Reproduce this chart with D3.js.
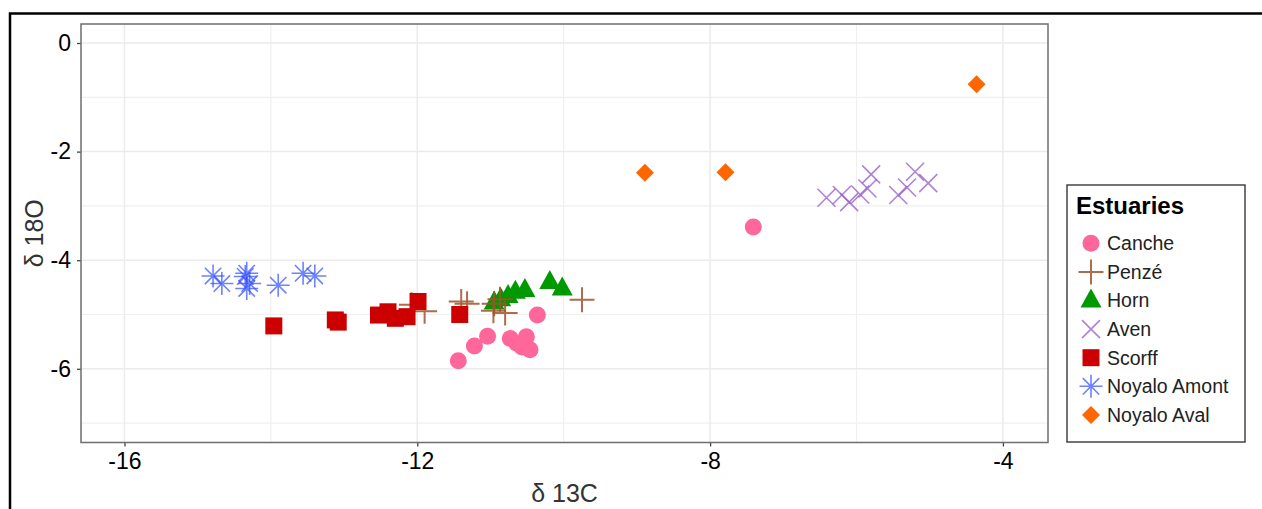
<!DOCTYPE html>
<html>
<head>
<meta charset="utf-8">
<script src="https://cdn.jsdelivr.net/npm/d3@7"></script>
<style>
  html, body { margin: 0; padding: 0; background: #fff; }
  svg { display: block; font-family: "Liberation Sans", Arial, sans-serif; }
</style>
</head>
<body>
<svg id="chart" width="1262" height="509"></svg>
<script>
// ---- data (δ13C, δ18O) ----
const estuaries = ["Canche", "Penzé", "Horn", "Aven", "Scorff", "Noyalo Amont", "Noyalo Aval"];
const canche = [[-11.44,-5.85],[-11.22,-5.58],[-11.04,-5.40],[-10.73,-5.44],[-10.64,-5.53],[-10.51,-5.41],[-10.57,-5.60],[-10.46,-5.65],[-10.36,-5.01],[-7.41,-3.39]];
const penze = [[-12.08,-4.82],[-11.90,-4.94],[-11.40,-4.76],[-11.32,-4.80],[-10.95,-4.80],[-10.87,-4.72],[-10.96,-4.93],[-10.80,-4.97],[-9.75,-4.73]];
const horn = [[-10.95,-4.78],[-10.86,-4.72],[-10.66,-4.58],[-10.76,-4.66],[-10.53,-4.55],[-10.19,-4.40],[-10.02,-4.52]];
const aven = [[-6.41,-2.85],[-6.20,-2.80],[-6.10,-2.93],[-5.95,-2.79],[-5.85,-2.68],[-5.80,-2.42],[-5.43,-2.80],[-5.31,-2.66],[-5.20,-2.37],[-5.02,-2.58]];
const scorff = [[-13.96,-5.21],[-13.12,-5.10],[-13.08,-5.14],[-12.53,-5.01],[-12.40,-4.95],[-12.30,-5.07],[-12.14,-5.04],[-11.99,-4.76],[-11.42,-5.00]];
const noyaloAmont = [[-14.79,-4.29],[-14.67,-4.43],[-14.35,-4.30],[-14.33,-4.24],[-14.29,-4.43],[-14.33,-4.52],[-13.90,-4.46],[-13.56,-4.24],[-13.40,-4.29]];
const noyaloAval = [[-8.89,-2.39],[-7.79,-2.38],[-4.36,-0.76]];
const xTicks = [-16, -12, -8, -4];
const xMinor = [-14, -10, -6];
const yTicks = [0, -2, -4, -6];
const yMinor = [-1, -3, -5, -7];
const xTitle = "δ 13C";
const yTitle = "δ 18O";
const legendTitle = "Estuaries";

const seriesData = [canche, penze, horn, aven, scorff, noyaloAmont, noyaloAval];
const colors = ["#ff6699", "#a0522d", "#009900", "#9459c6", "#cc0000", "#2f4dff", "#ff6600"];
const shapes = ["circle", "plus", "triangle", "cross", "square", "asterisk", "diamond"];
const drawOrder = [2, 1, 4, 0, 3, 5, 6];

// ---- layout ----
const svg = d3.select("#chart");
const P = { left: 81, right: 1048, top: 24, bottom: 442.5 };
const x = d3.scaleLinear().domain([-16.594, -3.384]).range([P.left, P.right]);
const y = d3.scaleLinear().domain([-7.357, 0.35]).range([P.bottom, P.top]);

// outer frame
svg.append("path").attr("d", "M10,509 L10,13.5 L1262,13.5")
  .attr("fill", "none").attr("stroke", "#000").attr("stroke-width", 2.5);

// gridlines
const grid = svg.append("g");
grid.selectAll(".vmin").data(xMinor).enter().append("line")
  .attr("x1", d => x(d)).attr("x2", d => x(d)).attr("y1", P.top).attr("y2", P.bottom)
  .attr("stroke", "#f0f0f0").attr("stroke-width", 1.2);
grid.selectAll(".hmin").data(yMinor).enter().append("line")
  .attr("y1", d => y(d)).attr("y2", d => y(d)).attr("x1", P.left).attr("x2", P.right)
  .attr("stroke", "#f0f0f0").attr("stroke-width", 1.2);
grid.selectAll(".vmaj").data(xTicks).enter().append("line")
  .attr("x1", d => x(d)).attr("x2", d => x(d)).attr("y1", P.top).attr("y2", P.bottom)
  .attr("stroke", "#ebebeb").attr("stroke-width", 1.5);
grid.selectAll(".hmaj").data(yTicks).enter().append("line")
  .attr("y1", d => y(d)).attr("y2", d => y(d)).attr("x1", P.left).attr("x2", P.right)
  .attr("stroke", "#ebebeb").attr("stroke-width", 1.5);

// axes
const fmt = d => String(d);
const xAxis = svg.append("g").attr("transform", `translate(0,${P.bottom})`)
  .call(d3.axisBottom(x).tickValues(xTicks).tickFormat(fmt).tickSize(4).tickPadding(6));
const yAxis = svg.append("g").attr("transform", `translate(${P.left},0)`)
  .call(d3.axisLeft(y).tickValues(yTicks).tickFormat(fmt).tickSize(4).tickPadding(6));
[xAxis, yAxis].forEach(a => {
  a.select(".domain").remove();
  a.selectAll(".tick line").attr("stroke", "#444").attr("stroke-width", 1.3);
  a.selectAll(".tick text").attr("fill", "#000").style("font-size", "23px")
    .style("font-family", "'Liberation Sans', Arial, sans-serif");
});
xAxis.selectAll(".tick text").attr("dy", "0.71em").attr("y", 10);
yAxis.selectAll(".tick text").attr("x", -10);

// panel border
svg.append("rect").attr("x", P.left).attr("y", P.top)
  .attr("width", P.right - P.left).attr("height", P.bottom - P.top)
  .attr("fill", "none").attr("stroke", "#6e6e6e").attr("stroke-width", 1.5);

// axis titles
svg.append("text").attr("x", (P.left + P.right) / 2).attr("y", 502)
  .attr("text-anchor", "middle").attr("fill", "#333").style("font-size", "25px").text(xTitle);
svg.append("text").attr("transform", `translate(43,${(P.top + P.bottom) / 2}) rotate(-90)`)
  .attr("text-anchor", "middle").attr("fill", "#333").style("font-size", "25px").text(yTitle);

// symbols
function drawSymbol(g, shape, color) {
  if (shape === "circle") {
    g.append("circle").attr("r", 8.5).attr("fill", color);
  } else if (shape === "square") {
    g.append("rect").attr("x", -8.5).attr("y", -8.5).attr("width", 17).attr("height", 17).attr("fill", color);
  } else if (shape === "triangle") {
    g.append("path").attr("d", "M0,-12 L10.5,7 L-10.5,7 Z").attr("fill", color);
  } else if (shape === "diamond") {
    g.append("path").attr("d", "M0,-9 L9,0 L0,9 L-9,0 Z").attr("fill", color);
  } else if (shape === "plus") {
    g.append("path").attr("d", "M-12.5,0 L12.5,0 M0,-12.5 L0,12.5")
      .attr("stroke", color).attr("stroke-width", 2).attr("stroke-opacity", 0.85).attr("fill", "none");
  } else if (shape === "cross") {
    g.append("path").attr("d", "M-9,-9 L9,9 M-9,9 L9,-9")
      .attr("stroke", color).attr("stroke-width", 1.6).attr("stroke-opacity", 0.75).attr("fill", "none");
  } else if (shape === "asterisk") {
    g.append("path").attr("d", "M-11.5,0 L11.5,0 M0,-11.5 L0,11.5 M-8.2,-8.2 L8.2,8.2 M-8.2,8.2 L8.2,-8.2")
      .attr("stroke", color).attr("stroke-width", 1.6).attr("stroke-opacity", 0.7).attr("fill", "none");
  }
}

const pts = svg.append("g");
drawOrder.forEach(i => {
  pts.selectAll(null).data(seriesData[i]).enter().append("g")
    .attr("transform", d => `translate(${x(d[0])},${y(d[1])})`)
    .each(function () { drawSymbol(d3.select(this), shapes[i], colors[i]); });
});

// legend
const L = svg.append("g");
L.append("rect").attr("x", 1067).attr("y", 185).attr("width", 178).attr("height", 257)
  .attr("fill", "#fff").attr("stroke", "#444").attr("stroke-width", 1.5);
L.append("text").attr("x", 1076).attr("y", 214).attr("fill", "#000")
  .style("font-size", "24px").style("font-weight", "bold").text(legendTitle);
estuaries.forEach((name, i) => {
  const cy = 243.3 + i * 28.6;
  const g = L.append("g").attr("transform", `translate(1091,${cy})`);
  drawSymbol(g, shapes[i], colors[i]);
  L.append("text").attr("x", 1107).attr("y", cy).attr("dy", "0.35em")
    .attr("fill", "#222").style("font-size", "19.5px").text(name);
});
</script>
</body>
</html>
